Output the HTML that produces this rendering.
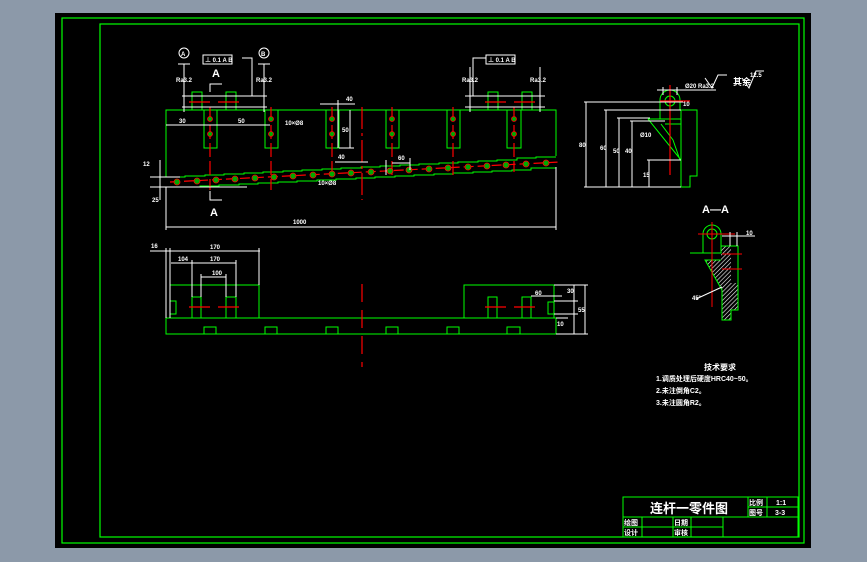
<!DOCTYPE html>
<html><head><meta charset="utf-8"><style>
html,body{margin:0;padding:0;width:867px;height:562px;overflow:hidden;background:#8c99a9}
svg{display:block}
text{font-family:"Liberation Sans","Noto Sans CJK SC",sans-serif;fill:#fff;font-weight:bold}
</style></head><body>
<svg width="867" height="562" viewBox="0 0 867 562">
<defs>
<pattern id="h" width="3" height="3" patternUnits="userSpaceOnUse" patternTransform="rotate(45)"><rect width="3" height="3" fill="#000"/><line x1="0" y1="0" x2="0" y2="3" stroke="#fff" stroke-width="1.2"/></pattern>
</defs>
<rect x="55" y="13" width="756" height="535" fill="#000"/>
<g fill="none" stroke="#0f0" stroke-width="1.2">
<rect x="62" y="18" width="742" height="525"/>
<rect x="100" y="24" width="699" height="513"/>
</g>
<!-- front view -->
<g fill="none" stroke="#0f0" stroke-width="1">
<polyline points="166,177 166,110 556,110 556,156"/>
<polyline points="166,177 185,177 185,176 205,176 205,175 224,175 224,174 244,174 244,173 263,173 263,172 283,172 283,171 302,171 302,170 322,170 322,169 341,169 341,168 361,168 361,167 380,167 380,166 400,166 400,165 419,165 419,164 439,164 439,163 458,163 458,162 478,162 478,161 497,161 497,160 517,160 517,158 536,158 536,157 556,157"/>
<polyline points="180,187 200,187 200,186 219,186 219,185 239,185 239,184 258,184 258,183 278,183 278,182 297,182 297,181 317,181 317,180 336,180 336,179 356,179 356,178 375,178 375,177 395,177 395,176 414,176 414,175 434,175 434,174 453,174 453,173 473,173 473,172 492,172 492,171 512,171 512,170 531,170 531,168 556,168"/>
<rect x="204" y="110" width="13" height="38"/><rect x="265" y="110" width="13" height="38"/><rect x="326" y="110" width="13" height="38"/><rect x="386" y="110" width="13" height="38"/><rect x="447" y="110" width="13" height="38"/><rect x="507" y="110" width="14" height="38"/>
<rect x="192" y="92" width="10" height="18"/><rect x="226" y="92" width="10" height="18"/><rect x="488" y="92" width="10" height="18"/><rect x="522" y="92" width="10" height="18"/>
</g>
<g stroke="#f00" stroke-width="1.2" fill="none">
<line x1="362" y1="107" x2="362" y2="200" stroke-dasharray="22,4,3,4"/>
<line x1="189" y1="102" x2="210" y2="102"/><line x1="218" y1="102" x2="239" y2="102"/><line x1="485" y1="102" x2="506" y2="102"/><line x1="514" y1="102" x2="535" y2="102"/>
<line x1="210" y1="107" x2="210" y2="190" stroke-dasharray="14,4"/><line x1="271" y1="107" x2="271" y2="190" stroke-dasharray="14,4"/><line x1="332" y1="107" x2="332" y2="178" stroke-dasharray="14,4"/><line x1="392" y1="107" x2="392" y2="178" stroke-dasharray="14,4"/><line x1="453" y1="107" x2="453" y2="178" stroke-dasharray="14,4"/><line x1="514" y1="107" x2="514" y2="172" stroke-dasharray="14,4"/>
<line x1="170" y1="182" x2="560" y2="162" stroke-dasharray="10,4"/>
</g>
<g fill="#0a0" stroke="#f00" stroke-width="0.8">
<circle cx="210" cy="119" r="2.5"/><circle cx="210" cy="134" r="2.5"/><circle cx="271" cy="119" r="2.5"/><circle cx="271" cy="134" r="2.5"/><circle cx="332" cy="119" r="2.5"/><circle cx="332" cy="134" r="2.5"/><circle cx="392" cy="119" r="2.5"/><circle cx="392" cy="134" r="2.5"/><circle cx="453" cy="119" r="2.5"/><circle cx="453" cy="134" r="2.5"/><circle cx="514" cy="119" r="2.5"/><circle cx="514" cy="134" r="2.5"/>
<circle cx="177" cy="182" r="3"/><circle cx="197" cy="181" r="3"/><circle cx="216" cy="180" r="3"/><circle cx="235" cy="179" r="3"/><circle cx="255" cy="178" r="3"/><circle cx="274" cy="177" r="3"/><circle cx="293" cy="176" r="3"/><circle cx="313" cy="175" r="3"/><circle cx="332" cy="174" r="3"/><circle cx="351" cy="173" r="3"/><circle cx="371" cy="172" r="3"/><circle cx="390" cy="171" r="3"/><circle cx="409" cy="170" r="3"/><circle cx="429" cy="169" r="3"/><circle cx="448" cy="168" r="3"/><circle cx="468" cy="167" r="3"/><circle cx="487" cy="166" r="3"/><circle cx="506" cy="165" r="3"/><circle cx="526" cy="164" r="3"/><circle cx="546" cy="163" r="3"/>
</g>
<g stroke="#fff" stroke-width="1" fill="none">
<line x1="166" y1="187" x2="166" y2="230"/><line x1="556" y1="167" x2="556" y2="230"/><line x1="166" y1="227" x2="556" y2="227"/>
<line x1="184" y1="64" x2="184" y2="112"/><line x1="264" y1="64" x2="264" y2="112"/><line x1="178" y1="64" x2="190" y2="64"/><line x1="258" y1="64" x2="270" y2="64"/>
<circle cx="184" cy="53" r="5"/><circle cx="264" cy="53" r="5"/>
<rect x="203" y="55" width="29" height="9"/><rect x="486" y="55" width="29" height="9"/>
<line x1="182" y1="96" x2="267" y2="96"/><line x1="182" y1="107" x2="267" y2="107"/>
<polyline points="242,58 252,58 252,96"/><polyline points="486,58 473,58 473,96"/>
<line x1="465" y1="96" x2="545" y2="96"/><line x1="465" y1="107" x2="545" y2="107"/>
<line x1="470" y1="67" x2="470" y2="112"/><line x1="540" y1="67" x2="540" y2="112"/>
<line x1="166" y1="125" x2="270" y2="125"/><line x1="320" y1="104" x2="355" y2="104"/><line x1="338" y1="100" x2="338" y2="148"/><line x1="339" y1="148" x2="354" y2="148"/><line x1="350" y1="110" x2="350" y2="148"/>
<line x1="150" y1="177" x2="180" y2="177"/><line x1="150" y1="187" x2="247" y2="187"/><line x1="160" y1="160" x2="160" y2="200"/>
<polyline points="210,92 210,84 222,84"/><polyline points="210,191 210,200 222,200"/>
<line x1="335" y1="162" x2="368" y2="162"/><line x1="392" y1="163" x2="410" y2="163"/><line x1="386" y1="160" x2="386" y2="175"/><line x1="410" y1="158" x2="410" y2="170"/>
</g>
<g font-size="6">
<text x="181" y="56">A</text><text x="261" y="56">B</text>
<text x="205" y="62">⊥ 0.1 A B</text><text x="488" y="62">⊥ 0.1 A B</text>
<text x="212" y="77" font-size="11">A</text><text x="210" y="216" font-size="11">A</text>
<text x="179" y="123">30</text><text x="238" y="123">50</text><text x="342" y="132">50</text><text x="346" y="101">40</text>
<text x="285" y="125">10×Ø8</text><text x="318" y="185">10×Ø8</text><text x="338" y="159">40</text><text x="398" y="160">60</text>
<text x="143" y="166">12</text><text x="152" y="202">25</text><text x="293" y="224">1000</text>
<text x="176" y="82">Ra3.2</text><text x="256" y="82">Ra3.2</text><text x="462" y="82">Ra3.2</text><text x="530" y="82">Ra3.2</text>
</g>
<!-- top view -->
<g fill="none" stroke="#0f0" stroke-width="1">
<rect x="166" y="318" width="390" height="16"/>
<polyline points="170,318 170,285 259,285 259,318"/><polyline points="192,318 192,297 201,297 201,318"/><polyline points="226,318 226,297 236,297 236,318"/>
<polyline points="170,301 176,301 176,314 170,314"/>
<polyline points="464,318 464,285 554,285 554,318"/><polyline points="488,318 488,297 497,297 497,318"/><polyline points="522,318 522,297 531,297 531,318"/><polyline points="554,302 548,302 548,314 554,314"/>
<polyline points="204,334 204,327 216,327 216,334"/><polyline points="265,334 265,327 277,327 277,334"/><polyline points="326,334 326,327 338,327 338,334"/><polyline points="386,334 386,327 398,327 398,334"/><polyline points="447,334 447,327 459,327 459,334"/><polyline points="507,334 507,327 520,327 520,334"/>
</g>
<g stroke="#f00" stroke-width="1.2">
<line x1="362" y1="284" x2="362" y2="367" stroke-dasharray="18,8"/>
<line x1="189" y1="307" x2="210" y2="307"/><line x1="218" y1="307" x2="239" y2="307"/><line x1="485" y1="307" x2="506" y2="307"/><line x1="514" y1="307" x2="535" y2="307"/>
</g>
<g stroke="#fff" stroke-width="1" fill="none">
<line x1="150" y1="251" x2="260" y2="251"/><line x1="166" y1="248" x2="166" y2="318"/><line x1="170" y1="248" x2="170" y2="318"/><line x1="259" y1="248" x2="259" y2="285"/>
<line x1="171" y1="263" x2="236" y2="263"/><line x1="192" y1="260" x2="192" y2="297"/><line x1="236" y1="260" x2="236" y2="297"/>
<line x1="201" y1="277" x2="226" y2="277"/><line x1="201" y1="274" x2="201" y2="297"/><line x1="226" y1="274" x2="226" y2="297"/>
<line x1="554" y1="285" x2="588" y2="285"/><line x1="556" y1="334" x2="588" y2="334"/><line x1="585" y1="285" x2="585" y2="334"/><line x1="574" y1="285" x2="574" y2="334"/>
<line x1="531" y1="296" x2="562" y2="296"/><line x1="554" y1="301" x2="578" y2="301"/><line x1="554" y1="314" x2="578" y2="314"/><line x1="556" y1="318" x2="568" y2="318"/>
</g>
<g font-size="6"><text x="151" y="248">16</text><text x="210" y="249">170</text><text x="178" y="261">104</text><text x="210" y="261">170</text><text x="212" y="275">100</text><text x="535" y="295">60</text><text x="567" y="293">30</text><text x="578" y="312">55</text><text x="557" y="326">10</text></g>
<!-- side view -->
<g fill="none" stroke="#0f0" stroke-width="1">
<path d="M660,119 L660,100 A10,10 0 0 1 680,100 L680,110 M660,110 L697,110 L697,176 L690,176 L690,187 L681,187 L681,110"/>
<circle cx="670" cy="101" r="5"/>
<path d="M648,119 L681,119 M665,124 L681,124 M648,119 L681,160 M661,124 L673,140 L680,160"/>
</g>
<g stroke="#f00" stroke-width="1.2"><line x1="670" y1="85" x2="670" y2="175"/><line x1="660" y1="101" x2="690" y2="101"/></g>
<g stroke="#fff" stroke-width="1" fill="none">
<line x1="584" y1="102" x2="683" y2="102"/><line x1="586" y1="102" x2="586" y2="187"/><line x1="584" y1="187" x2="681" y2="187"/>
<line x1="604" y1="110" x2="681" y2="110"/><line x1="606" y1="110" x2="606" y2="187"/>
<line x1="617" y1="118" x2="650" y2="118"/><line x1="619" y1="118" x2="619" y2="187"/>
<line x1="630" y1="121" x2="665" y2="121"/><line x1="632" y1="121" x2="632" y2="187"/>
<line x1="647" y1="160" x2="681" y2="160"/><line x1="649" y1="160" x2="649" y2="187"/>
<line x1="657" y1="90" x2="716" y2="90"/><line x1="663" y1="87" x2="663" y2="95"/><line x1="677" y1="87" x2="677" y2="95"/>
<polyline points="705,78 712,88 718,75 727,75"/><polyline points="742,78 749,88 756,71 764,71"/>
</g>
<g font-size="6"><text x="685" y="88">Ø20 Ra3.2</text><text x="683" y="106">10</text><text x="579" y="147">80</text><text x="600" y="150">60</text><text x="613" y="153">50</text><text x="625" y="153">40</text><text x="643" y="177">15</text><text x="640" y="137">Ø10</text>
<text x="733" y="85" font-size="9">其余</text><text x="750" y="77">12.5</text></g>
<!-- A-A -->
<text x="702" y="213" font-size="11">A—A</text>
<path d="M690,253 L721,253 L721,246 L731,246 L731,283 L738,283 L738,310 L731,310 L731,320 L722,320 L722,290 L705,260 L721,260 L721,253" fill="url(#h)"/>
<g fill="none" stroke="#0f0" stroke-width="1">
<path d="M703,253 L703,234 A9,9 0 0 1 721,234 L721,246"/><circle cx="712" cy="234" r="5"/>
<path d="M690,253 L721,253 L721,246 L738,246 L738,310 L731,310 L731,320 L722,320 L722,290 L705,260 L721,260"/>
</g>
<g stroke="#f00" stroke-width="1"><line x1="712" y1="222" x2="712" y2="307"/><line x1="698" y1="234" x2="735" y2="234"/><line x1="722" y1="254" x2="742" y2="254"/><line x1="722" y1="269" x2="742" y2="269"/></g>
<g stroke="#fff" fill="none"><line x1="722" y1="236" x2="755" y2="236"/><line x1="730" y1="232" x2="730" y2="246"/><line x1="737" y1="232" x2="737" y2="246"/><line x1="696" y1="299" x2="722" y2="287"/></g>
<text x="746" y="235" font-size="6">10</text><text x="692" y="300" font-size="6">45°</text>
<!-- tech -->
<g font-size="7"><text x="704" y="370" font-size="8">技术要求</text><text x="656" y="381">1.调质处理后硬度HRC40~50。</text><text x="656" y="393">2.未注倒角C2。</text><text x="656" y="405">3.未注圆角R2。</text></g>
<!-- title -->
<g fill="none" stroke="#0f0" stroke-width="1">
<rect x="623" y="497" width="175" height="40"/><line x1="623" y1="517" x2="798" y2="517"/><line x1="623" y1="527" x2="723" y2="527"/>
<line x1="748" y1="497" x2="748" y2="517"/><line x1="767" y1="497" x2="767" y2="517"/><line x1="748" y1="507" x2="798" y2="507"/>
<line x1="642" y1="517" x2="642" y2="537"/><line x1="673" y1="517" x2="673" y2="537"/><line x1="691" y1="517" x2="691" y2="537"/><line x1="723" y1="517" x2="723" y2="537"/>
</g>
<text x="650" y="513" font-size="13">连杆一零件图</text>
<g font-size="7"><text x="749" y="505">比例</text><text x="749" y="515">图号</text><text x="776" y="505">1:1</text><text x="775" y="515">3-3</text>
<text x="624" y="525">绘图</text><text x="624" y="535">设计</text><text x="674" y="525">日期</text><text x="674" y="535">审核</text></g>
</svg>
</body></html>
